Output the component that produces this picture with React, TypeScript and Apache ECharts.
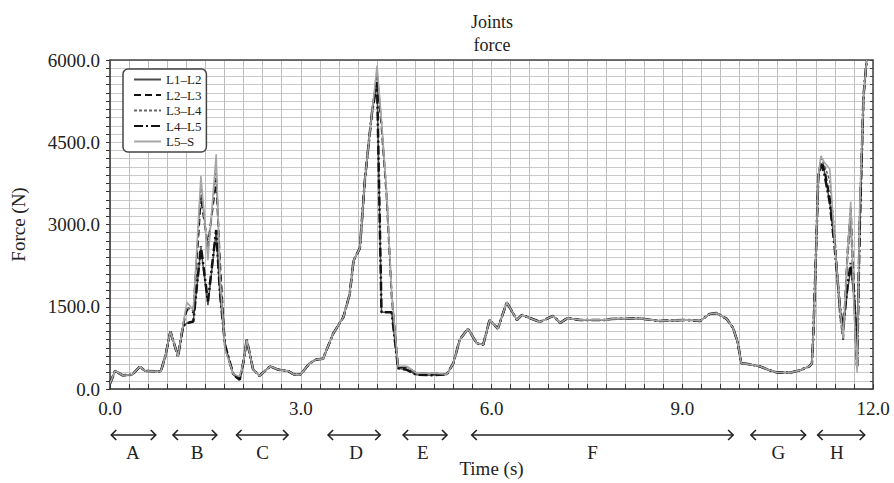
import React, { useEffect, useRef } from "react";
import * as echarts from "echarts";

const TIME = [
  0, 0.08, 0.2, 0.35, 0.47, 0.55, 0.8, 0.87, 0.95, 1.07,
  1.15, 1.21, 1.31, 1.43, 1.54, 1.67, 1.73, 1.81, 1.94, 2.04,
  2.1, 2.15, 2.25, 2.35, 2.52, 2.65, 2.8, 2.9, 3.0, 3.14,
  3.25, 3.35, 3.51, 3.67, 3.77, 3.83, 3.93, 4.01, 4.12, 4.2,
  4.27, 4.35, 4.43, 4.53, 4.67, 4.82, 5.08, 5.3, 5.4, 5.5,
  5.63, 5.77, 5.87, 5.97, 6.1, 6.24, 6.4, 6.48, 6.76, 6.97,
  7.08, 7.2, 7.39, 7.78, 7.88, 8.33, 8.65, 9.07, 9.28, 9.43,
  9.54, 9.7, 9.8, 9.87, 9.93, 10.06, 10.22, 10.33, 10.49, 10.7,
  10.85, 11.0, 11.04, 11.06, 11.1, 11.14, 11.18, 11.23, 11.32, 11.4,
  11.48, 11.53, 11.6, 11.65, 11.7, 11.75, 11.79, 11.85, 11.9,
];

const L1_L2 = [
  100, 330, 250, 260, 410, 330, 320, 600, 1050, 590,
  1150, 1200, 1230, 2570, 1530, 2880, 1700, 800, 260, 170,
  500, 900, 360, 240, 414, 350, 330, 260, 270, 470,
  540, 550, 1010, 1310, 1730, 2340, 2570, 3830, 5040, 5600,
  1400, 1400, 1400, 380, 350, 260, 250, 270, 470, 900,
  1100, 830, 810, 1260, 1100, 1580, 1260, 1350, 1224, 1332,
  1206, 1296, 1260, 1260, 1278, 1285, 1242, 1260, 1242, 1368,
  1386, 1278, 1110, 860, 468, 450, 414, 360, 300, 300,
  340, 414, 470, 950, 2340, 3890, 4100, 4000, 3400, 2600,
  1500, 1130, 1800, 2200, 1700, 1000, 2800, 5330, 6000,
];

const L2_L3 = [
  100, 330, 250, 260, 410, 330, 320, 600, 1050, 590,
  1170, 1450, 1400, 3500, 2600, 3830, 2300, 750, 270, 190,
  500, 900, 360, 240, 414, 350, 330, 260, 270, 470,
  540, 550, 1010, 1310, 1730, 2340, 2570, 3830, 5040, 5700,
  4800, 3530, 1700, 400, 400, 290, 280, 270, 470, 900,
  1100, 830, 810, 1260, 1100, 1580, 1260, 1350, 1224, 1332,
  1206, 1296, 1260, 1260, 1278, 1285, 1242, 1260, 1242, 1368,
  1386, 1278, 1110, 860, 468, 450, 414, 360, 300, 300,
  340, 414, 470, 950, 2340, 3890, 4150, 4050, 3500, 2700,
  1400, 900, 2500, 3300, 1800, 360, 3000, 5330, 6000,
];

const L3_L4 = [
  100, 330, 250, 260, 410, 330, 320, 600, 1050, 590,
  1180, 1500, 1420, 3700, 2500, 4000, 2200, 740, 270, 200,
  500, 900, 360, 240, 414, 350, 330, 260, 270, 470,
  540, 550, 1010, 1310, 1730, 2340, 2570, 3830, 5040, 5800,
  4850, 3550, 1750, 410, 410, 290, 290, 270, 470, 900,
  1100, 830, 810, 1260, 1100, 1580, 1260, 1350, 1224, 1332,
  1206, 1296, 1260, 1260, 1278, 1285, 1242, 1260, 1242, 1368,
  1386, 1278, 1110, 860, 468, 450, 414, 360, 300, 300,
  340, 414, 470, 950, 2340, 3890, 4200, 4100, 3800, 2800,
  1300, 950, 2400, 3000, 1600, 500, 3000, 5330, 6000,
];

const L4_L5 = [
  100, 330, 250, 260, 410, 330, 320, 600, 1050, 590,
  1150, 1200, 1230, 2600, 1600, 2900, 1750, 800, 260, 170,
  500, 900, 360, 240, 414, 350, 330, 260, 270, 470,
  540, 550, 1010, 1310, 1730, 2340, 2570, 3830, 5040, 5600,
  1400, 1400, 1400, 380, 350, 260, 250, 270, 470, 900,
  1100, 830, 810, 1260, 1100, 1580, 1260, 1350, 1224, 1332,
  1206, 1296, 1260, 1260, 1278, 1285, 1242, 1260, 1242, 1368,
  1386, 1278, 1110, 860, 468, 450, 414, 360, 300, 300,
  340, 414, 470, 950, 2340, 3890, 4100, 3950, 3400, 2550,
  1500, 1100, 1900, 2300, 1800, 400, 2900, 5330, 6000,
];

const L5_S = [
  100, 330, 250, 260, 410, 330, 320, 600, 1050, 590,
  1190, 1580, 1440, 3890, 2350, 4280, 2000, 720, 270, 230,
  500, 900, 360, 240, 414, 350, 330, 260, 270, 470,
  540, 550, 1010, 1310, 1730, 2340, 2570, 3830, 5040, 5900,
  4900, 3600, 1750, 414, 414, 290, 290, 270, 470, 900,
  1100, 830, 810, 1260, 1100, 1580, 1260, 1350, 1224, 1332,
  1206, 1296, 1260, 1260, 1278, 1285, 1242, 1260, 1242, 1368,
  1386, 1278, 1110, 860, 468, 450, 414, 360, 300, 300,
  340, 414, 470, 950, 2340, 3890, 4250, 4140, 4014, 2630,
  1500, 918, 2500, 3420, 1500, 300, 3240, 5330, 6000,
];

const SERIES_NAMES = ["L1–L2", "L2–L3", "L3–L4", "L4–L5", "L5–S"];
const X_TICK_LABELS = [0, 3, 6, 9, 12];
const Y_TICK_LABELS = [0, 1500, 3000, 4500, 6000];

const PHASE_LABELS = ["A", "B", "C", "D", "E", "F", "G", "H"];
const PHASE_FROM = [0.02, 0.99, 1.99, 3.43, 4.61, 5.69, 10.08, 11.13];
const PHASE_TO = [0.72, 1.68, 2.8, 4.25, 5.3, 9.8, 10.94, 11.87];
const PHASE_LABEL_AT = [0.36, 1.37, 2.4, 3.87, 4.92, 7.59, 10.51, 11.43];

const FONT = "'Liberation Serif', 'Times New Roman', serif";
const INK = "#222";

export default function App() {
  const ref = useRef<HTMLDivElement>(null);

  useEffect(() => {
    if (!ref.current) return;
    const chart = echarts.init(ref.current, null, { renderer: "svg" });

    const seriesData = [L1_L2, L2_L3, L3_L4, L4_L5, L5_S];
    const styles = [
      { color: "#4a4a4a", width: 1.5, type: "solid" as any },
      { color: "#111", width: 2, type: [7, 4] as any },
      { color: "#666", width: 1.6, type: [3, 2] as any },
      { color: "#111", width: 2.5, type: [9, 3, 2, 3] as any },
      { color: "#a6a6a6", width: 1.6, type: "solid" as any },
    ];

    const valueAxisCommon = {
      type: "value" as const,
    };

    const option: any = {
      animation: false,
      backgroundColor: "#fff",
      title: {
        text: "Joints\nforce",
        left: 487,
        top: 5,
        textAlign: "center",
        textStyle: {
          fontFamily: FONT,
          fontSize: 18,
          fontWeight: "normal",
          color: INK,
          lineHeight: 23,
        },
      },
      legend: {
        orient: "vertical",
        left: 123,
        top: 69,
        data: SERIES_NAMES,
        itemWidth: 27,
        itemHeight: 12,
        itemGap: 2.5,
        itemTextGap: 4,
        backgroundColor: "#fff",
        borderColor: "#444",
        borderWidth: 1.5,
        borderRadius: 5,
        padding: [4, 5, 4, 10],
        textStyle: { fontFamily: FONT, fontSize: 13, color: INK, lineHeight: 12 },
        itemStyle: { opacity: 0 },
      },
      grid: { left: 110, right: 21, top: 60, bottom: 90, containLabel: false },
      xAxis: [
        {
          ...valueAxisCommon,
          min: 0,
          max: 12,
          interval: 0.3,
          name: "Time (s)",
          nameLocation: "middle",
          nameGap: 70,
          nameTextStyle: { fontFamily: FONT, fontSize: 19, color: INK },
          axisLine: { show: true, onZero: false, lineStyle: { color: "#333", width: 1.5 } },
          axisTick: { show: true, inside: true, length: 5, lineStyle: { color: "#333" } },
          axisLabel: {
            fontFamily: FONT,
            fontSize: 19,
            color: INK,
            margin: 10,
            showMinLabel: true,
            showMaxLabel: true,
            formatter: (v: number) =>
              X_TICK_LABELS.some((t) => Math.abs(t - v) < 1e-6) ? v.toFixed(1) : "",
          },
          splitLine: { show: true, lineStyle: { color: "#bdbdbd", width: 1 } },
        },
        {
          ...valueAxisCommon,
          position: "top",
          min: 0,
          max: 12,
          interval: 0.3,
          axisLine: { show: true, onZero: false, lineStyle: { color: "#444", width: 1.5 } },
          axisTick: { show: false },
          axisLabel: { show: false },
          splitLine: { show: false },
        },
      ],
      yAxis: [
        {
          ...valueAxisCommon,
          min: 0,
          max: 6000,
          interval: 150,
          name: "Force (N)",
          nameLocation: "middle",
          nameGap: 82,
          nameTextStyle: { fontFamily: FONT, fontSize: 19, color: INK },
          axisLine: { show: true, onZero: false, lineStyle: { color: "#333", width: 1.5 } },
          axisTick: { show: true, inside: false, length: 4, lineStyle: { color: "#333" } },
          axisLabel: {
            fontFamily: FONT,
            fontSize: 19,
            color: INK,
            margin: 10,
            showMinLabel: true,
            showMaxLabel: true,
            formatter: (v: number) =>
              Y_TICK_LABELS.some((t) => Math.abs(t - v) < 1e-6) ? v.toFixed(1) : "",
          },
          splitLine: { show: true, lineStyle: { color: "#cacaca", width: 1 } },
        },
        {
          ...valueAxisCommon,
          position: "right",
          min: 0,
          max: 6000,
          interval: 150,
          axisLine: { show: true, onZero: false, lineStyle: { color: "#444", width: 1.5 } },
          axisTick: { show: true, inside: true, length: 3, lineStyle: { color: "#444" } },
          axisLabel: { show: false },
          splitLine: { show: false },
        },
      ],
      series: SERIES_NAMES.map((name, i) => ({
        name,
        type: "line",
        xAxisIndex: 0,
        yAxisIndex: 0,
        symbol: "none",
        showSymbol: false,
        clip: true,
        color: styles[i].color,
        lineStyle: styles[i],
        data: TIME.map((t, k) => [t, seriesData[i][k]]),
        z: 2 + i,
      })),
    };

    chart.setOption(option);

    const arrowY = 435;
    const letterY = 452;
    const head = 5;
    const graphics: any[] = [];
    PHASE_LABELS.forEach((lab, i) => {
      const x1 = chart.convertToPixel({ xAxisIndex: 0 }, PHASE_FROM[i]) as number;
      const x2 = chart.convertToPixel({ xAxisIndex: 0 }, PHASE_TO[i]) as number;
      const xl = chart.convertToPixel({ xAxisIndex: 0 }, PHASE_LABEL_AT[i]) as number;
      const stroke = { stroke: "#222", lineWidth: 1.6, fill: "none" };
      graphics.push({
        type: "line",
        shape: { x1, y1: arrowY, x2, y2: arrowY },
        style: stroke,
        silent: true,
      });
      graphics.push({
        type: "polyline",
        shape: { points: [[x1 + head, arrowY - head], [x1, arrowY], [x1 + head, arrowY + head]] },
        style: stroke,
        silent: true,
      });
      graphics.push({
        type: "polyline",
        shape: { points: [[x2 - head, arrowY - head], [x2, arrowY], [x2 - head, arrowY + head]] },
        style: stroke,
        silent: true,
      });
      graphics.push({
        type: "text",
        x: xl,
        y: letterY,
        style: {
          text: lab,
          fontFamily: FONT,
          fontSize: 19,
          fill: INK,
          align: "center",
          verticalAlign: "middle",
        },
        silent: true,
      });
    });
    chart.setOption({ graphic: graphics });

    return () => {
      chart.dispose();
    };
  }, []);

  return (
    <div
      ref={ref}
      style={{ position: "fixed", left: 0, top: 0, width: 894, height: 483, background: "#fff" }}
    />
  );
}
